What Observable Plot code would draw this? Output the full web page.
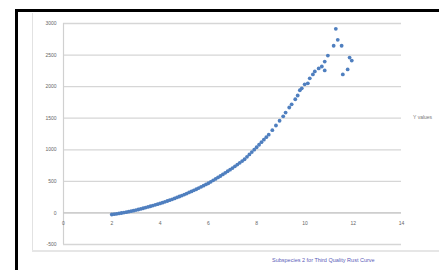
<!DOCTYPE html>
<html>
<head>
<meta charset="utf-8">
<script src="https://cdn.jsdelivr.net/npm/d3@7"></script>
<script src="https://cdn.jsdelivr.net/npm/@observablehq/plot@0.6"></script>
<style>
  html, body { margin: 0; padding: 0; background: #fff; overflow: hidden; width: 439px; height: 270px; }
  #wrap { position: relative; width: 439px; height: 270px; overflow: hidden; font-family: "Liberation Sans", Arial, sans-serif; }
  #barTop { position: absolute; left: 15px; top: 9px; width: 424px; height: 3px; background: #000; }
  #barLeft { position: absolute; left: 15px; top: 9px; width: 3px; height: 261px; background: #000; }
  #areaLeft { position: absolute; left: 32px; top: 13px; width: 1px; height: 237px; background: #e2e2e2; }
  #areaBottom { position: absolute; left: 32px; top: 250px; width: 407px; height: 1.5px; background: #e6e6e6; }
  #chart { position: absolute; left: 0; top: 0; }
  #legend { position: absolute; left: 413px; top: 114px; font-size: 5px; color: #777; white-space: nowrap; }
  #caption { position: absolute; left: 272px; top: 257px; font-size: 5.5px; color: #5b5bb8; white-space: nowrap; }
</style>
</head>
<body>
<div id="wrap">
  <div id="barTop"></div>
  <div id="barLeft"></div>
  <div id="areaLeft"></div>
  <div id="areaBottom"></div>
  <div id="chart"></div>
  <div id="legend">Y values</div>
  <div id="caption">Subspecies 2 for Third Quality Rust Curve</div>
</div>
<script>
const xTicks = [0, 2, 4, 6, 8, 10, 12, 14];
const yTicks = [-500, 0, 500, 1000, 1500, 2000, 2500, 3000];

const xValues = [
  2.0, 2.1, 2.2, 2.3, 2.4, 2.5, 2.6, 2.7, 2.8, 2.9,
  3.0, 3.1, 3.2, 3.3, 3.4, 3.5, 3.6, 3.7, 3.8, 3.9,
  4.0, 4.1, 4.2, 4.3, 4.4, 4.5, 4.6, 4.7, 4.8, 4.9,
  5.0, 5.1, 5.2, 5.3, 5.4, 5.5, 5.6, 5.7, 5.8, 5.9,
  6.0, 6.1, 6.2, 6.3, 6.4, 6.5, 6.6, 6.7, 6.8, 6.9,
  7.0, 7.1, 7.2, 7.3, 7.4, 7.5, 7.6, 7.7, 7.8, 7.9,
  8.0, 8.1, 8.2, 8.3, 8.4, 8.5,
  8.65, 8.8, 8.95, 9.1, 9.2, 9.35, 9.45, 9.6, 9.7,
  9.79, 9.87, 9.99, 10.12, 10.2, 10.33, 10.41, 10.57, 10.7, 10.82,
  10.82, 10.95, 11.19, 11.28, 11.36, 11.52, 11.57, 11.77, 11.85, 11.94
];
const yValues = [
  -25, -20, -14, -8, -1, 5, 12, 20, 28, 36,
  45, 54, 64, 74, 84, 95, 106, 117, 128, 139,
  150, 163, 176, 189, 202, 215, 230, 245, 260, 275,
  290, 307, 324, 341, 358, 375, 394, 413, 432, 451,
  470, 493, 516, 539, 562, 585, 610, 635, 660, 685,
  710, 738, 766, 794, 822, 850, 888, 926, 964, 1002,
  1040, 1080, 1120, 1160, 1200, 1240,
  1310, 1385, 1460, 1530, 1590, 1670, 1720, 1800, 1860,
  1943, 1974, 2037, 2053, 2131, 2194, 2241, 2288, 2319, 2257,
  2397, 2492, 2648, 2915, 2742, 2648, 2194, 2272, 2460, 2413
];

const data = xValues.map((x, i) => ({x, y: yValues[i]}));

const chart = Plot.plot({
  width: 439,
  height: 270,
  marginLeft: 63,
  marginRight: 38,
  marginTop: 23,
  marginBottom: 26,
  style: {background: "transparent", fontFamily: "Liberation Sans, Arial, sans-serif"},
  x: {domain: [0, 14], axis: null},
  y: {domain: [-500, 3000], axis: null},
  marks: [
    Plot.ruleY(yTicks, {stroke: "#d6d6d6", strokeWidth: 1.3}),
    Plot.ruleX([0], {y1: -500, y2: 3000, stroke: "#d0d0d0", strokeWidth: 1.2}),
    Plot.ruleY([0], {stroke: "#c8c8c8", strokeWidth: 1.3}),
    Plot.text(yTicks, {x: 0, y: d => d, text: d => String(d), dx: -7, textAnchor: "end", fontSize: 5, fill: "#666"}),
    Plot.text(xTicks, {x: d => d, y: 0, text: d => String(d), dy: 10, fontSize: 5, fill: "#666"}),
    Plot.dot(data, {x: "x", y: "y", r: 1.9, fill: "#4f7fbf", stroke: "none"})
  ]
});
document.getElementById("chart").appendChild(chart);
</script>
</body>
</html>
